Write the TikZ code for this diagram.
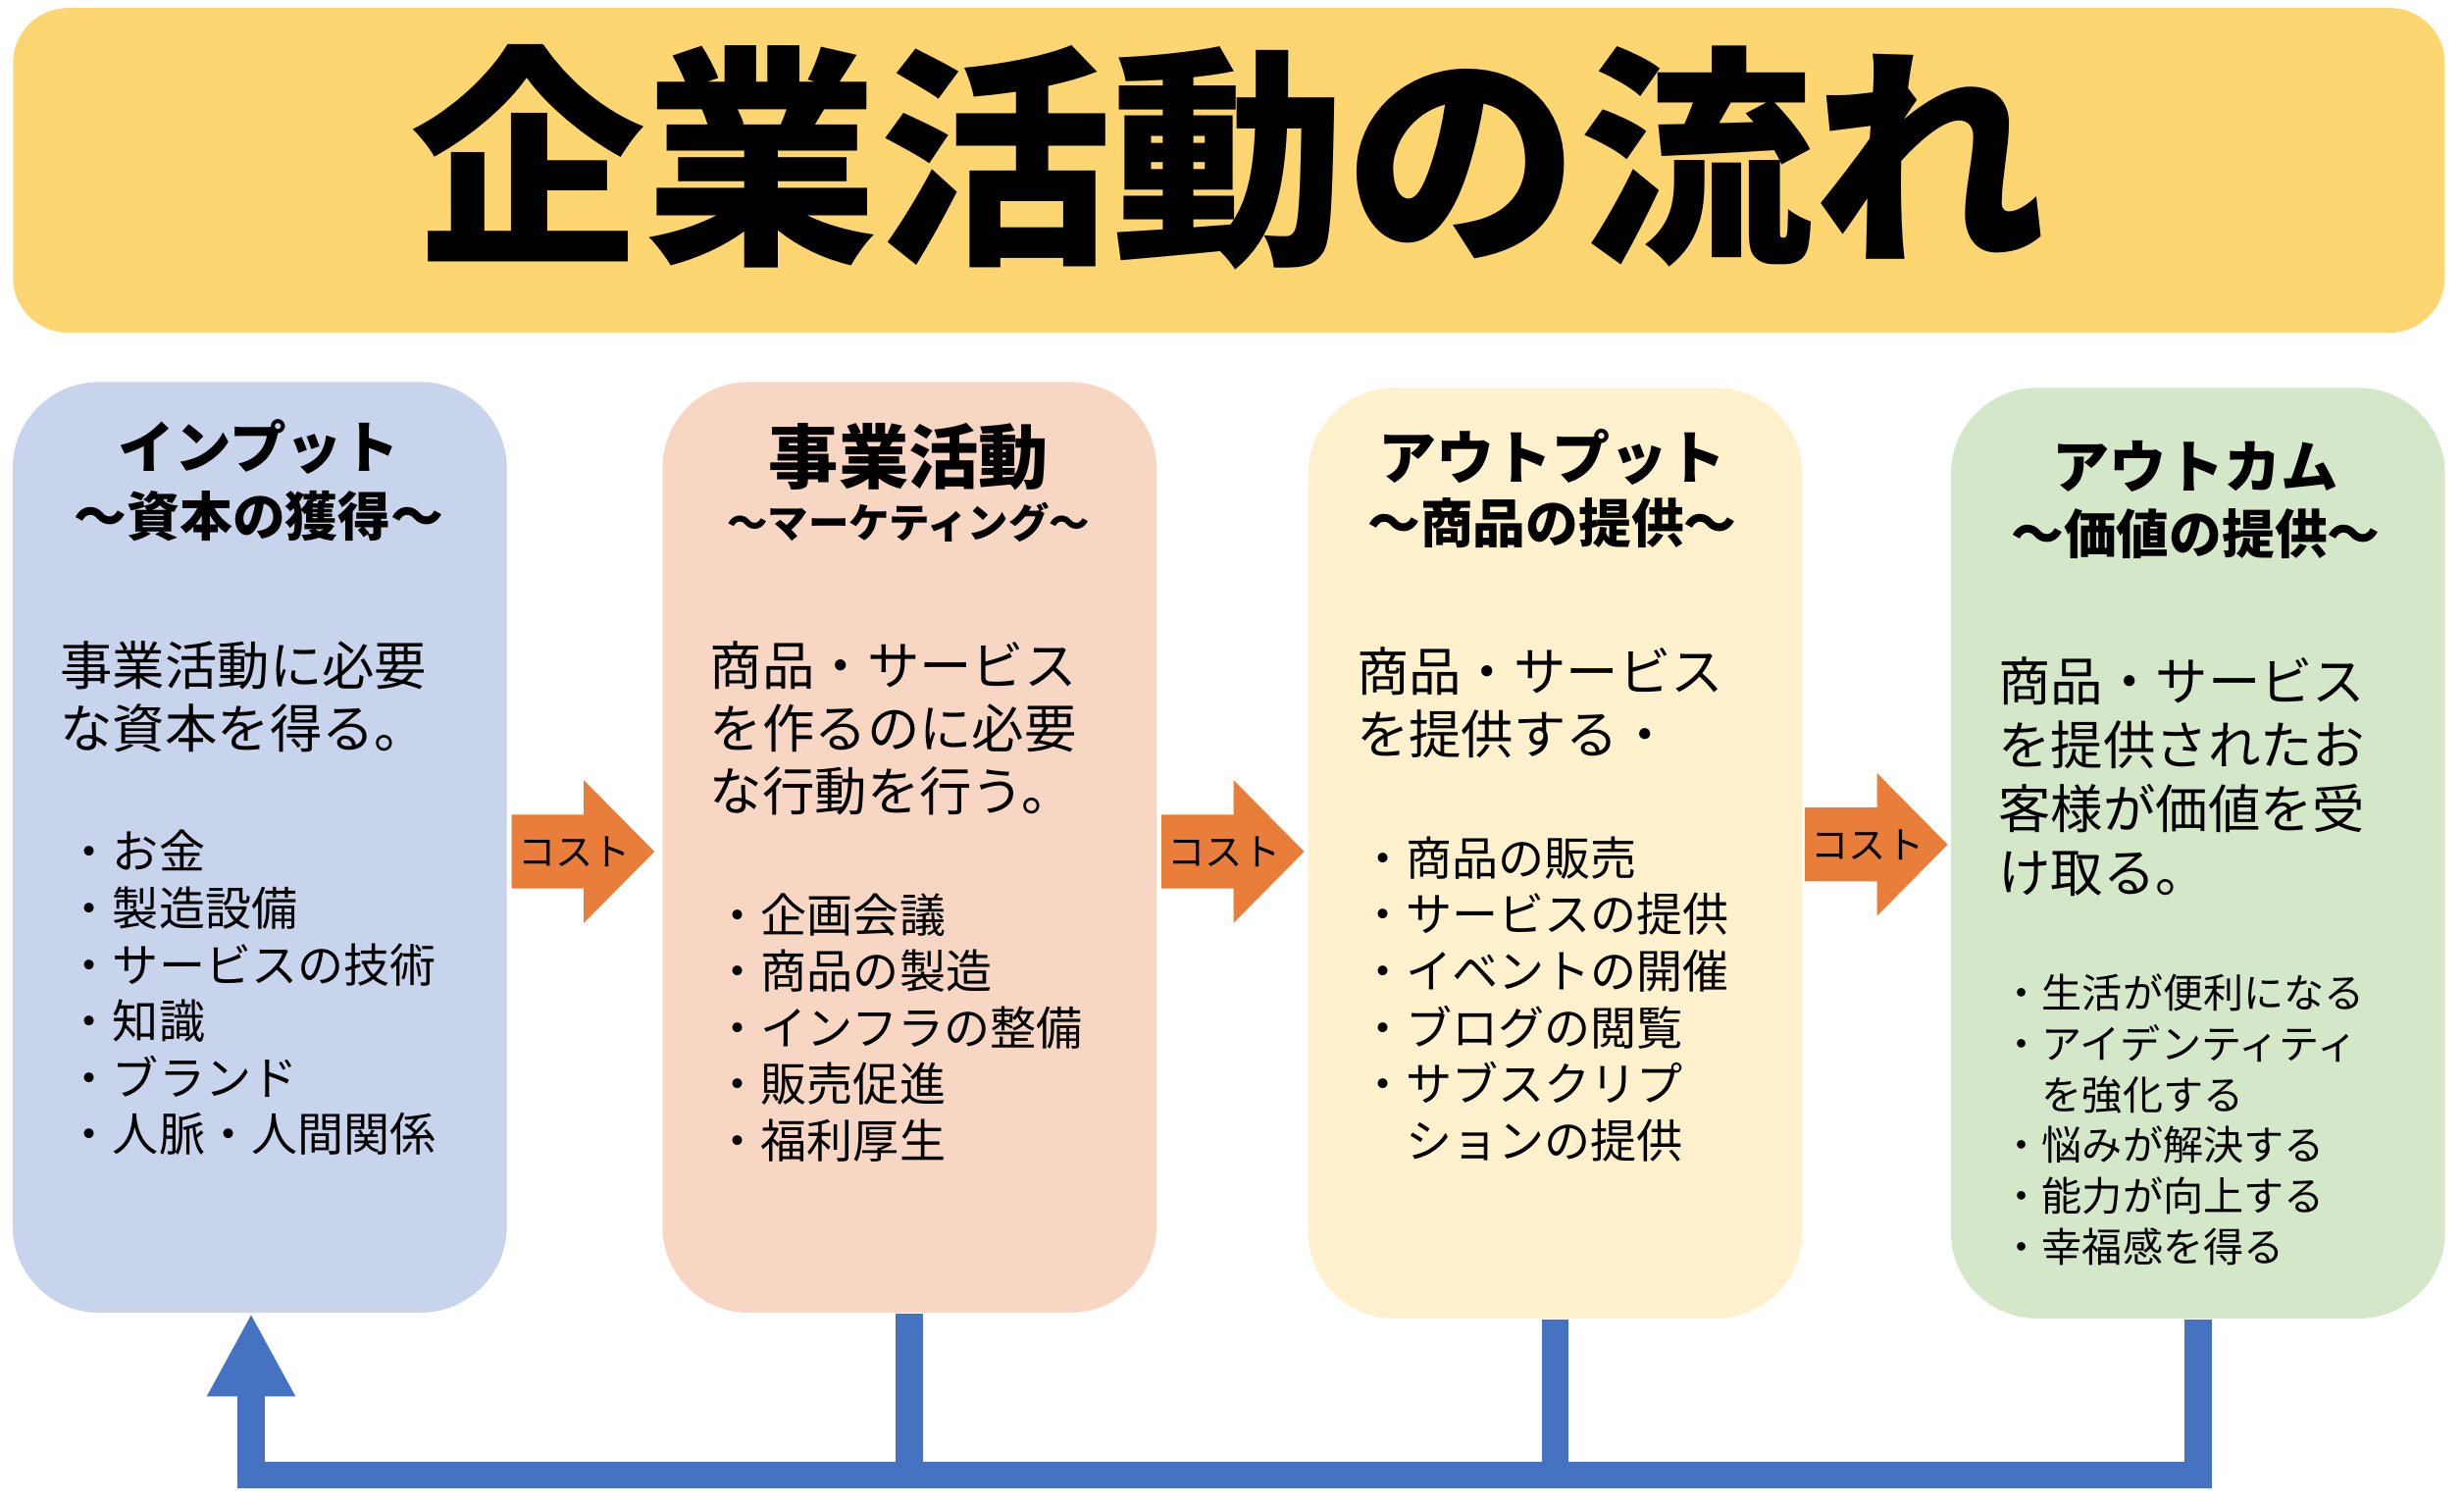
\documentclass[tikz,border=0pt]{standalone}
\usepackage{fontspec}
\setmainfont{Noto Sans CJK JP}
\usepackage{tikz}
\usepackage{xcolor}
\usetikzlibrary{arrows.meta}

\definecolor{bannergold}{HTML}{FDD672}
\definecolor{inputblue}{HTML}{C8D4EC}
\definecolor{activitypeach}{HTML}{F7D7C3}
\definecolor{outputcream}{HTML}{FFF0CE}
\definecolor{outcomegreen}{HTML}{D5E7C9}
\definecolor{costorange}{HTML}{E97D3A}
\definecolor{loopblue}{HTML}{4573C1}

\begin{document}
\begin{tikzpicture}[x=0.016cm, y=-0.016cm,
	box/.style={rounded corners=0.88cm, minimum width=5.04cm, minimum height=9.49cm, inner sep=0pt},
	head/.style={font=\bfseries\fontsize{16.4pt}{19pt}\selectfont, inner sep=0pt},
	sub/.style={font=\bfseries\fontsize{15.3pt}{18pt}\selectfont, inner sep=0pt},
	body/.style={font=\fontsize{15.2pt}{18.2pt}\selectfont, align=left, anchor=north west, inner sep=0pt},
	items/.style={font=\fontsize{13.4pt}{16.4pt}\selectfont, align=left, anchor=north west, inner sep=0pt},
	cost/.style={font=\fontsize{10.9pt}{12pt}\selectfont, inner sep=0pt},
	feedback/.style={loopblue, line width=0.275cm}]
	\useasboundingbox (0,0) rectangle (1570,957.5);

	\node[fill=bannergold, rounded corners=0.56cm, minimum width=24.8cm, minimum height=3.31cm] (banner) at (783,108.5) {};
	\node[font=\bfseries\fontsize{67.8pt}{70pt}\selectfont, inner sep=0pt] (title) at (783,100) {企業活動の流れ};

	\node[box, fill=inputblue] (input) at (165.5,539.8) {};
	\node[box, fill=activitypeach] (activity) at (579.5,539.8) {};
	\node[box, fill=outputcream] (output) at (991,543.5) {};
	\node[box, fill=outcomegreen] (outcome) at (1400.5,543.5) {};

	\node[head] (inputhead) at (165,285) {インプット};
	\node[sub] (inputsub) at (165,329) {～資本の獲得～};
	\node[body] (inputtext) at (38,408) {事業活動に必要\\な資本を得る。};
	\node[items] (inputlist) at (42,528.5) {・お金\\・製造設備\\・サービスの技術\\・知識\\・ブランド\\・人脈・人間関係};

	\node[head, font=\bfseries\fontsize{20.3pt}{22pt}\selectfont] (activityhead) at (579,291) {事業活動};
	\node[sub, font=\bfseries\fontsize{11.8pt}{14pt}\selectfont] (activitysub) at (579,333) {～マーケティング～};
	\node[body] (activitytext) at (452,408) {商品・サービス\\を作るのに必要\\な行動を行う。};
	\node[items] (activitylist) at (455,568.5) {・企画会議\\・商品の製造\\・インフラの整備\\・販売促進\\・福利厚生};

	\node[head, font=\bfseries\fontsize{16.8pt}{19pt}\selectfont] (outputhead) at (989,291) {アウトプット};
	\node[sub] (outputsub) at (989,333) {～商品の提供～};
	\node[body] (outputtext) at (864,412) {商品・サービス\\を提供する・};
	\node[items] (outputlist) at (866,532.5) {・商品の販売\\・サービスの提供\\・イベントの開催\\・ブログの閲覧\\・サブスクリプ\\　ションの提供};

	\node[head, font=\bfseries\fontsize{16.6pt}{19pt}\selectfont] (outcomehead) at (1399,297) {アウトカム};
	\node[sub] (outcomesub) at (1399,340) {～価値の提供～};
	\node[body, font=\fontsize{15.2pt}{18.5pt}\selectfont] (outcometext) at (1273,418) {商品・サービス\\を提供されたお\\客様が価値を受\\け取る。};
	\node[items, font=\fontsize{11.7pt}{14.75pt}\selectfont] (outcomelist) at (1275,620) {・生活が便利になる\\・アイデンティティ\\　を強化する\\・悩みが解決する\\・能力が向上する\\・幸福感を得る};

	\foreach \x/\y [count=\i] in {326/542.5, 740/542.5, 1150/538}
	{
		\fill[costorange] ({\x},{\y-23.5}) -- ++(46,0) -- ++(0,-22) -- ({\x+91},{\y}) -- ({\x+46},{\y+45.5}) -- ++(0,-22) -- ({\x},{\y+23.5}) -- cycle;
		\node[cost] (cost\i) at ({\x+40},{\y}) {コスト};
	}

	\coordinate (bus) at (0,939.6);
	\draw[feedback, -{Triangle[length=0.848cm, width=0.84cm]}] (outcome.south) |- ([xshift=-0.088cm]input.south |- bus) -- ([xshift=-0.088cm]input.south);
	\draw[feedback] (activity.south) -- (activity.south |- bus);
	\draw[feedback] (output.south) -- (output.south |- bus);
\end{tikzpicture}
\end{document}
